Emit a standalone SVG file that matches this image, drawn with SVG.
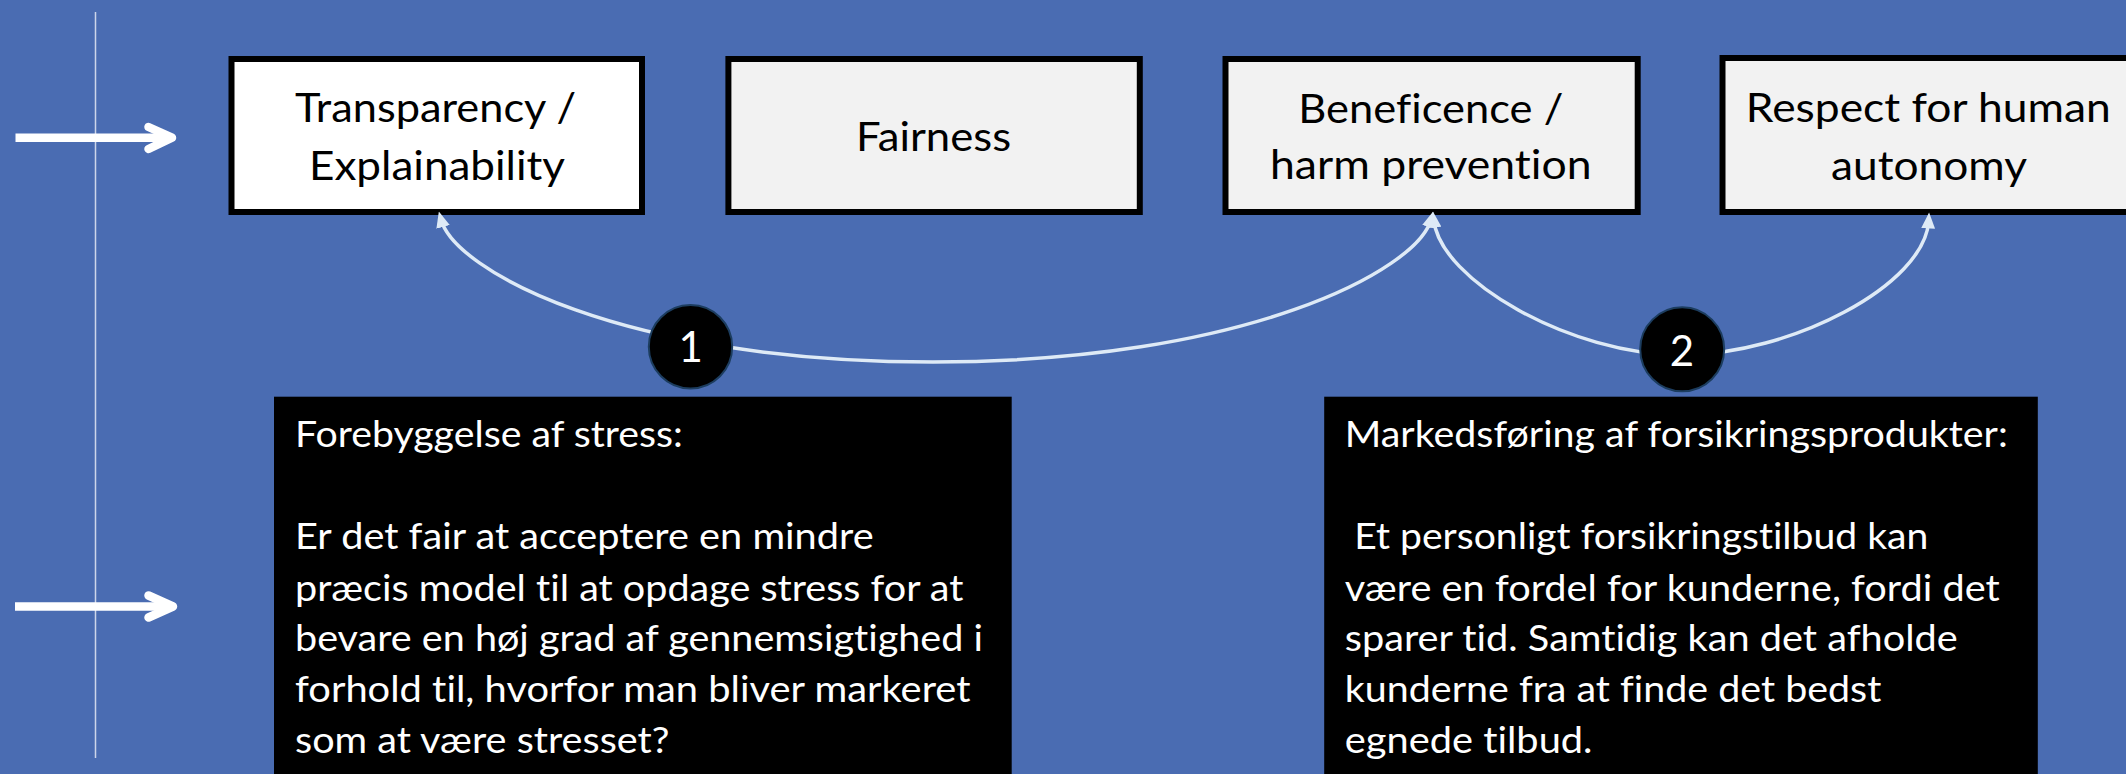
<svg xmlns="http://www.w3.org/2000/svg" width="2126" height="774" viewBox="0 0 2126 774">
  <style>
    text { font-variant-ligatures: none; font-feature-settings: "liga" 0; }
    .box { stroke: #000000; stroke-width: 6; }
    .title { font-family: Lato, "Liberation Sans", sans-serif; font-size: 41px; fill: #000000; text-anchor: middle; }
    .para { font-family: Lato, "Liberation Sans", sans-serif; font-size: 37.5px; fill: #ffffff; }
    .num { font-family: Lato, "Liberation Sans", sans-serif; font-size: 42px; fill: #ffffff; text-anchor: middle; }
    .conn { fill: none; stroke: #deeaf6; stroke-width: 3.5; }
    .badge { fill: #000000; stroke: #1c3d5f; stroke-width: 2; }
    .side { fill: none; stroke: #ffffff; stroke-width: 8.5; }
  </style>
  <defs>
    <marker id="ah" markerUnits="userSpaceOnUse" markerWidth="16" markerHeight="14" viewBox="0 0 15 13" refX="7" refY="6.5" orient="auto-start-reverse">
      <path d="M0,0 L15,6.5 L0,13 z" fill="#deeaf6"/>
    </marker>
  </defs>

  <rect x="0" y="0" width="2126" height="774" fill="#4a6cb2"/>

  <g id="timeline">
    <line x1="95.5" y1="12" x2="95.5" y2="758" stroke="#cdd5ea" stroke-width="1.5"/>
    <line class="side" x1="15.5" y1="137.7" x2="170" y2="137.7"/>
    <polyline class="side" points="148.5,127 172,137.7 148.5,149" stroke-linecap="round" stroke-linejoin="round"/>
    <line class="side" x1="15" y1="606.5" x2="170" y2="606.5"/>
    <polyline class="side" points="148.5,595.5 173,606.5 148.5,617.5" stroke-linecap="round" stroke-linejoin="round"/>
  </g>

  <g id="node-transparency">
    <rect class="box" x="231.5" y="59" width="410.5" height="153" fill="#ffffff"/>
    <text class="title" x="435.5" y="121.7" textLength="281" lengthAdjust="spacingAndGlyphs">Transparency /</text>
    <text class="title" x="437" y="180" textLength="256" lengthAdjust="spacingAndGlyphs">Explainability</text>
  </g>
  <g id="node-fairness">
    <rect class="box" x="728.4" y="59" width="411.4" height="153" fill="#f2f2f2"/>
    <text class="title" x="933.6" y="150.7" textLength="155" lengthAdjust="spacingAndGlyphs">Fairness</text>
  </g>
  <g id="node-beneficence">
    <rect class="box" x="1225.5" y="59" width="412.2" height="153" fill="#f2f2f2"/>
    <text class="title" x="1430.8" y="122.7" textLength="265" lengthAdjust="spacingAndGlyphs">Beneficence /</text>
    <text class="title" x="1430.8" y="179.3" textLength="321.7" lengthAdjust="spacingAndGlyphs">harm prevention</text>
  </g>
  <g id="node-autonomy">
    <rect class="box" x="1722.5" y="58" width="412" height="154" fill="#f2f2f2"/>
    <text class="title" x="1928.3" y="121.7" textLength="365" lengthAdjust="spacingAndGlyphs">Respect for human</text>
    <text class="title" x="1929" y="180" textLength="196" lengthAdjust="spacingAndGlyphs">autonomy</text>
  </g>

  <g id="connectors">
    <path class="conn" d="M441.1,219.7 C455,270 620,362 933,362 C1246,362 1417,270 1430.9,219.7" marker-start="url(#ah)" marker-end="url(#ah)"/>
    <path class="conn" d="M1433.8,220 C1440,280 1570,355 1682,355 C1790,355 1925,285 1928.6,221" marker-start="url(#ah)" marker-end="url(#ah)"/>
  </g>

  <g id="badge-1">
    <circle class="badge" cx="690.5" cy="346.7" r="41.7"/>
    <text class="num" x="690.8" y="362">1</text>
  </g>
  <g id="badge-2">
    <circle class="badge" cx="1682.2" cy="349.3" r="42"/>
    <text class="num" x="1682" y="365.5">2</text>
  </g>

  <g id="case-stress">
    <rect x="274" y="396.7" width="737.7" height="390" fill="#000000"/>
    <text class="para" x="295" y="446.7" textLength="387.8" lengthAdjust="spacingAndGlyphs">Forebyggelse af stress:</text>
    <text class="para" x="295" y="549.3" textLength="578.6" lengthAdjust="spacingAndGlyphs">Er det fair at acceptere en mindre</text>
    <text class="para" x="295" y="600.7" textLength="668.4" lengthAdjust="spacingAndGlyphs">præcis model til at opdage stress for at</text>
    <text class="para" x="295" y="650.7" textLength="688" lengthAdjust="spacingAndGlyphs">bevare en høj grad af gennemsigtighed i</text>
    <text class="para" x="295" y="702.3" textLength="675.5" lengthAdjust="spacingAndGlyphs">forhold til, hvorfor man bliver markeret</text>
    <text class="para" x="295" y="753.3" textLength="374.5" lengthAdjust="spacingAndGlyphs">som at være stresset?</text>
  </g>

  <g id="case-insurance">
    <rect x="1324.2" y="396.7" width="713.6" height="390" fill="#000000"/>
    <text class="para" x="1344.8" y="446.7" textLength="663" lengthAdjust="spacingAndGlyphs">Markedsføring af forsikringsprodukter:</text>
    <text class="para" x="1354.3" y="549.3" textLength="574" lengthAdjust="spacingAndGlyphs">Et personligt forsikringstilbud kan</text>
    <text class="para" x="1344.8" y="600.7" textLength="655" lengthAdjust="spacingAndGlyphs">være en fordel for kunderne, fordi det</text>
    <text class="para" x="1344.8" y="650.7" textLength="613" lengthAdjust="spacingAndGlyphs">sparer tid. Samtidig kan det afholde</text>
    <text class="para" x="1344.8" y="702" textLength="536.5" lengthAdjust="spacingAndGlyphs">kunderne fra at finde det bedst</text>
    <text class="para" x="1344.8" y="753" textLength="247.7" lengthAdjust="spacingAndGlyphs">egnede tilbud.</text>
  </g>
</svg>
